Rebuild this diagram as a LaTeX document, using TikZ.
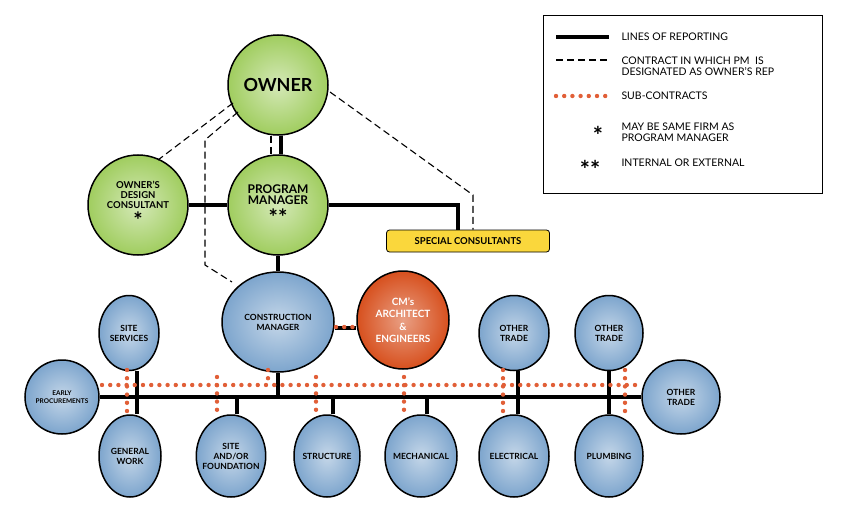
\documentclass[tikz,border=0pt]{standalone}
\usepackage{fontspec}
\setmainfont{Lato}
\usepackage{tikz}
\usetikzlibrary{shapes.geometric, positioning}
\definecolor{ownGreen}{RGB}{160,205,95}
\definecolor{ownBlue}{RGB}{125,165,205}
\definecolor{ownOrange}{RGB}{215,80,30}
\definecolor{ownYellow}{RGB}{250,215,60}
\definecolor{dotOrange}{RGB}{225,95,55}
\tikzstyle{greenNode} = [circle, draw=black, line width=1.5pt, minimum size=100pt, inner sep=0pt, inner color=ownGreen!45, outer color=ownGreen, align=center, font=\bfseries\fontsize{12}{11}\selectfont]
\tikzstyle{blueNode} = [ellipse, draw=black, line width=1.5pt, inner color=ownBlue!45, outer color=ownBlue, align=center, inner sep=-4pt, font=\bfseries\fontsize{8.5}{10}\selectfont]
\tikzstyle{report} = [line width=3.4pt, -]
\tikzstyle{contract} = [line width=1.1pt, dash pattern=on 7pt off 4pt, -]
\tikzstyle{subcon} = [draw=dotOrange, line width=4.4pt, line cap=round, dash pattern=on 0pt off 8.2pt, -]
\begin{document}
\begin{tikzpicture}[x=1pt, y=-1pt]
\useasboundingbox (0,0) rectangle (842,508);
% upper part
\node (owner) [greenNode, font=\bfseries\fontsize{18}{18}\selectfont] at (278,85) {OWNER};
\node (pm) [greenNode] at (278,205) {PROGRAM\\MANAGER\\[3pt]{\fontsize{22}{14}\selectfont **}};
\node (odc) [greenNode, font=\bfseries\fontsize{9.5}{10}\selectfont] at (138,205) {OWNER'S\\DESIGN\\CONSULTANT\\[2pt]{\fontsize{22}{14}\selectfont *}};
\node (spec) [rectangle, rounded corners=3pt, draw=black, thick, fill=ownYellow, minimum width=163pt, minimum height=22pt, font=\bfseries\fontsize{9.5}{10}\selectfont] at (468,241) {SPECIAL CONSULTANTS};
\node (cm) [blueNode, minimum width=112pt, minimum height=100pt] at (278,322) {CONSTRUCTION\\MANAGER};
\node (arch) [ellipse, draw=black, line width=1.5pt, inner color=ownOrange!55, outer color=ownOrange, minimum width=92pt, minimum height=98pt, inner sep=-4pt, align=center, text=white, font=\bfseries\fontsize{10}{12.5}\selectfont] at (403,320) {CM's\\ARCHITECT\\\&\\ENGINEERS};
% trades
\node (sserv) [blueNode, minimum width=60pt, minimum height=75pt] at (129,333) {SITE\\SERVICES};
\node (early) [blueNode, minimum width=74pt, minimum height=74pt, font=\bfseries\fontsize{6.5}{8}\selectfont] at (62,397) {EARLY\\PROCUREMENTS};
\node (gen) [blueNode, minimum width=62pt, minimum height=82pt] at (130,456) {GENERAL\\WORK};
\node (site) [blueNode, minimum width=64pt, minimum height=82pt] at (231,456) {SITE\\AND/OR\\FOUNDATION};
\node (struct) [blueNode, minimum width=66pt, minimum height=82pt] at (327,456) {STRUCTURE};
\node (mech) [blueNode, minimum width=72pt, minimum height=82pt] at (421,456) {MECHANICAL};
\node (elec) [blueNode, minimum width=70pt, minimum height=82pt] at (514,456) {ELECTRICAL};
\node (plumb) [blueNode, minimum width=68pt, minimum height=82pt] at (609,456) {PLUMBING};
\node (oth1) [blueNode, minimum width=70pt, minimum height=75pt] at (514,333) {OTHER\\TRADE};
\node (oth2) [blueNode, minimum width=68pt, minimum height=75pt] at (609,333) {OTHER\\TRADE};
\node (oth3) [blueNode, minimum width=78pt, minimum height=74pt] at (681,397) {OTHER\\TRADE};
% lines of reporting
\coordinate (bl) at (early.east);
\coordinate (br) at (oth3.west);
\coordinate (sk) at (458,205);
\draw [report] ([xshift=3pt]owner.south) -- ([xshift=3pt]pm.north);
\draw [report] (odc) -- (pm);
\draw [report] (pm.east) -- (sk) -- (sk |- spec.north);
\draw [report] (pm) -- (cm);
\draw [report] ([yshift=-6pt]cm.east) -- ([yshift=-6pt]cm.east -| arch.west);
\draw [report] (bl) -- (br);
\draw [report] (cm.south) -- (cm.south |- bl);
\draw [report] (137,0 |- sserv.south) -- (137,0 |- gen.north);
\draw [report] ([xshift=6pt]site.north) -- ++(0,-18);
\draw [report] ([xshift=6pt]struct.north) -- ++(0,-18);
\draw [report] ([xshift=6pt]mech.north) -- ++(0,-18);
\draw [report] ([xshift=4pt]oth1.south) -- ([xshift=4pt]elec.north);
\draw [report] (oth2.south) -- (plumb.north);
% contracts
\draw [contract] (330,92) -- (473,195) coordinate (o2) -- (o2 |- spec.north);
\draw [contract] (233,103) -- (158,160);
\draw [contract] (238,112) -- (205,140) -- (205,265) -- (232,282);
\draw [contract] ([xshift=-7pt]owner.south) -- ([xshift=-7pt]pm.north);
% sub-contracts
\draw [subcon] (102,385) -- (643,385);
\draw [subcon] (336,327) -- (357,327);
\foreach \xa/\ya/\yb in {127/370/415, 217/377/415, 316/377/415, 404/377/415, 268/370/385, 503/370/415, 625/370/415}
  \draw [subcon] (\xa,\ya) -- (\xa,\yb);
% legend
\node (legend) [draw=black, thick, minimum width=279pt, minimum height=178pt, anchor=north west] at (543,15) {};
\draw [report] (556,37) -- (609,37);
\draw [contract] (556,60) -- (609,60);
\draw [subcon] (556,96) -- (609,96);
\node (l1) [anchor=west, font=\fontsize{10.5}{11.5}\selectfont] at (618,37) {LINES OF REPORTING};
\node (l2) [anchor=west, align=left, font=\fontsize{10.5}{11.5}\selectfont] at (618,66) {CONTRACT IN WHICH PM\ \ IS\\DESIGNATED AS OWNER'S REP};
\node (l3) [anchor=west, font=\fontsize{10.5}{11.5}\selectfont] at (618,96) {SUB-CONTRACTS};
\node (l4) [anchor=west, align=left, font=\fontsize{10.5}{11.5}\selectfont] at (618,132) {MAY BE SAME FIRM AS\\PROGRAM MANAGER};
\node (l5) [anchor=west, font=\fontsize{10.5}{11.5}\selectfont] at (618,163) {INTERNAL OR EXTERNAL};
\node (s1) [font=\bfseries\fontsize{24}{24}\selectfont] at (598,135) {*};
\node (s2) [font=\bfseries\fontsize{24}{24}\selectfont] at (590,169) {**};
\end{tikzpicture}
\end{document}
